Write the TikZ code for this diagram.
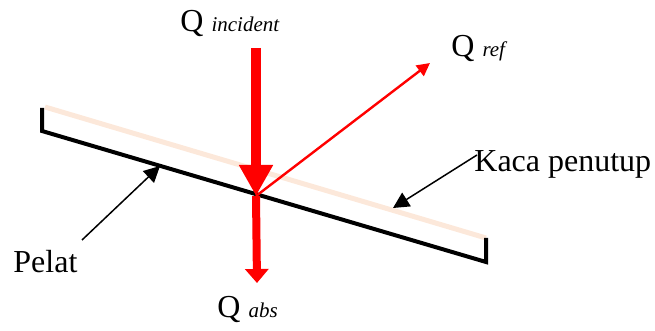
\documentclass[tikz,border=0pt]{standalone}
\usepackage{fontspec}
\setmainfont{Liberation Serif}
\usetikzlibrary{arrows.meta}
\definecolor{kaca}{RGB}{252,232,218}
\tikzset{
    label/.style={anchor=base west, inner sep=0pt, font=\fontsize{16}{19}\selectfont},
    pointer/.style={black, line width=0.75pt, -{Triangle[width=8pt,length=8pt]}},
}
\newcommand{\subtxt}[1]{{\fontsize{10.5}{12}\selectfont\itshape #1}}
\begin{document}
\begin{tikzpicture}[x=0.5pt, y=-0.5pt]
        \useasboundingbox (0,0) rectangle (655,331);
        % kaca penutup dan pelat
        \draw[kaca, line width=2.5pt] (45,107) -- (486,238);
        \draw[black, line width=2pt, line join=miter] (42,108) -- (42,131) -- (486,262) -- (486,238);
        \coordinate (hit) at (256,196);
        \coordinate (top) at (256,48);
        \coordinate (bottom) at (257,283);
        \coordinate (reftip) at (430,63);
        % label
        \node[label] (qinc) at (180,32) {Q \subtxt{incident}};
        \node[label] (qref) at (451,57) {Q \subtxt{ref}};
        \node[label] (qabs) at (217,318) {Q \subtxt{abs}};
        \node[label] (pelat) at (13,273) {Pelat};
        \node[label] (penutup) at (474,172) {Kaca penutup};
        % aliran panas
        \draw[red, line width=5pt, -{Triangle[width=16pt,length=15.5pt]}] (top) -- (hit);
        \draw[red, line width=4pt, -{Triangle[width=11.5pt,length=7pt]}] (hit) -- (bottom);
        \draw[red, line width=1.2pt, -{Triangle[width=6.5pt,length=6.5pt]}] (hit) -- (reftip);
        % penunjuk
        \coordinate (pelatend) at (82,240);
        \coordinate (pelattip) at (160,166);
        \coordinate (kacaend) at (477,155);
        \coordinate (kacatip) at (393,208);
        \draw[pointer] (pelatend) -- (pelattip);
        \draw[pointer] (kacaend) -- (kacatip);
    \end{tikzpicture}
\end{document}
